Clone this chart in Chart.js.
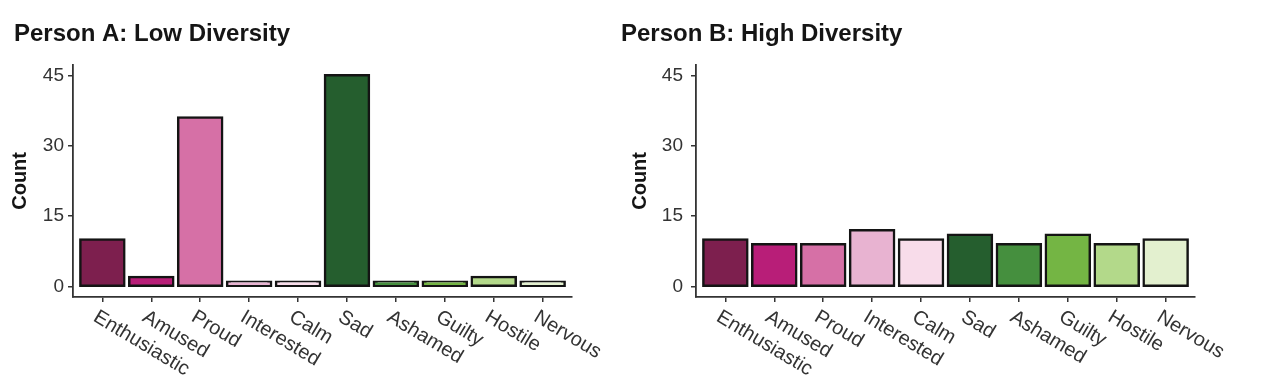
<!DOCTYPE html>
<html><head><meta charset="utf-8">
<script src="https://cdn.jsdelivr.net/npm/chart.js@4"></script>
<style>
html,body{margin:0;padding:0;background:#fff;width:1284px;height:386px;overflow:hidden;}
canvas{position:absolute;top:0;}
#ca{left:0;}
#cb{left:607px;}
</style></head><body>
<canvas id="ca" width="620" height="386"></canvas>
<canvas id="cb" width="677" height="386"></canvas>
<script>
const categories = ['Enthusiastic','Amused','Proud','Interested','Calm','Sad','Ashamed','Guilty','Hostile','Nervous'];
const personA = [10, 2, 36, 1, 1, 45, 1, 1, 2, 1];
const personB = [10, 9, 9, 12, 10, 11, 9, 11, 9, 10];
const yTicks = [0, 15, 30, 45];
const barColors = ['#7D1F4E','#B81E78','#D670A6','#E8B3D1','#F8DCEA','#255E2E','#458F3E','#74B544','#B3D98A','#E3F0CF'];
const titleA = 'Person A: Low Diversity';
const titleB = 'Person B: High Diversity';
const yTitle = 'Count';

const FAMILY = '"Liberation Sans", Arial, Helvetica, sans-serif';

const xLabelPlugin = {
  id: 'xlabels',
  afterDraw(chart) {
    const sx = chart.scales.x;
    const ctx = chart.ctx;
    ctx.save();
    ctx.font = '20px ' + FAMILY;
    ctx.fillStyle = '#333';
    ctx.textAlign = 'left';
    ctx.textBaseline = 'top';
    categories.forEach((c, i) => {
      const x = sx.getPixelForValue(i);
      ctx.save();
      ctx.translate(x - 2, sx.top + 10);
      ctx.rotate(31 * Math.PI / 180);
      ctx.fillText(c, 0, 0);
      ctx.restore();
    });
    ctx.restore();
  }
};

function makeChart(id, title, values, o) {
  return new Chart(document.getElementById(id), {
    type: 'bar',
    data: {
      datasets: [{
        data: values.map((v, i) => ({x: i, y: v})),
        backgroundColor: barColors,
        borderColor: '#141414',
        borderWidth: 2.5,
        borderSkipped: false,
        inflateAmount: 1.25,
        barPercentage: 0.9,
        categoryPercentage: 1
      }]
    },
    options: {
      responsive: false,
      animation: false,
      layout: {padding: {top: 20, left: 14, right: o.padRight, bottom: 0}},
      plugins: {
        legend: {display: false},
        tooltip: {enabled: false},
        title: {
          display: true, text: title, align: 'start', color: '#151515',
          font: {size: 24, weight: 'bold', family: FAMILY, lineHeight: 1.2},
          padding: {top: 0, bottom: 16}
        }
      },
      scales: {
        x: {
          type: 'linear', min: -0.6, max: 9.6, offset: false,
          afterBuildTicks: s => { s.ticks = categories.map((c, i) => ({value: i})); },
          afterFit: s => { s.height = 89; },
          grid: {offset: false, drawOnChartArea: false, drawTicks: true, tickLength: 5, color: '#333', lineWidth: 1.5},
          border: {display: true, color: '#333', width: 1.8},
          ticks: {display: false}
        },
        y: {
          type: 'linear', min: -2.25, max: 47.25,
          afterBuildTicks: s => { s.ticks = yTicks.map(v => ({value: v})); },
          afterFit: s => { s.width = o.axisWidth; },
          grid: {drawOnChartArea: false, drawTicks: true, tickLength: 5, color: '#333', lineWidth: 1.5},
          border: {display: true, color: '#333', width: 1.8},
          ticks: {color: '#333', font: {size: 19, family: FAMILY}, padding: o.tickPad},
          title: {
            display: true, text: yTitle, color: '#151515',
            font: {size: 20, weight: 'bold', family: FAMILY, lineHeight: 1.2},
            padding: {top: o.yTitlePad, bottom: 0}
          }
        }
      }
    },
    plugins: [xLabelPlugin]
  });
}

makeChart('ca', titleA, personA, {axisWidth: 59, tickPad: 4, yTitlePad: -6, padRight: 48});
makeChart('cb', titleB, personB, {axisWidth: 75, tickPad: 8, yTitlePad: 7, padRight: 89});
</script>
</body></html>
